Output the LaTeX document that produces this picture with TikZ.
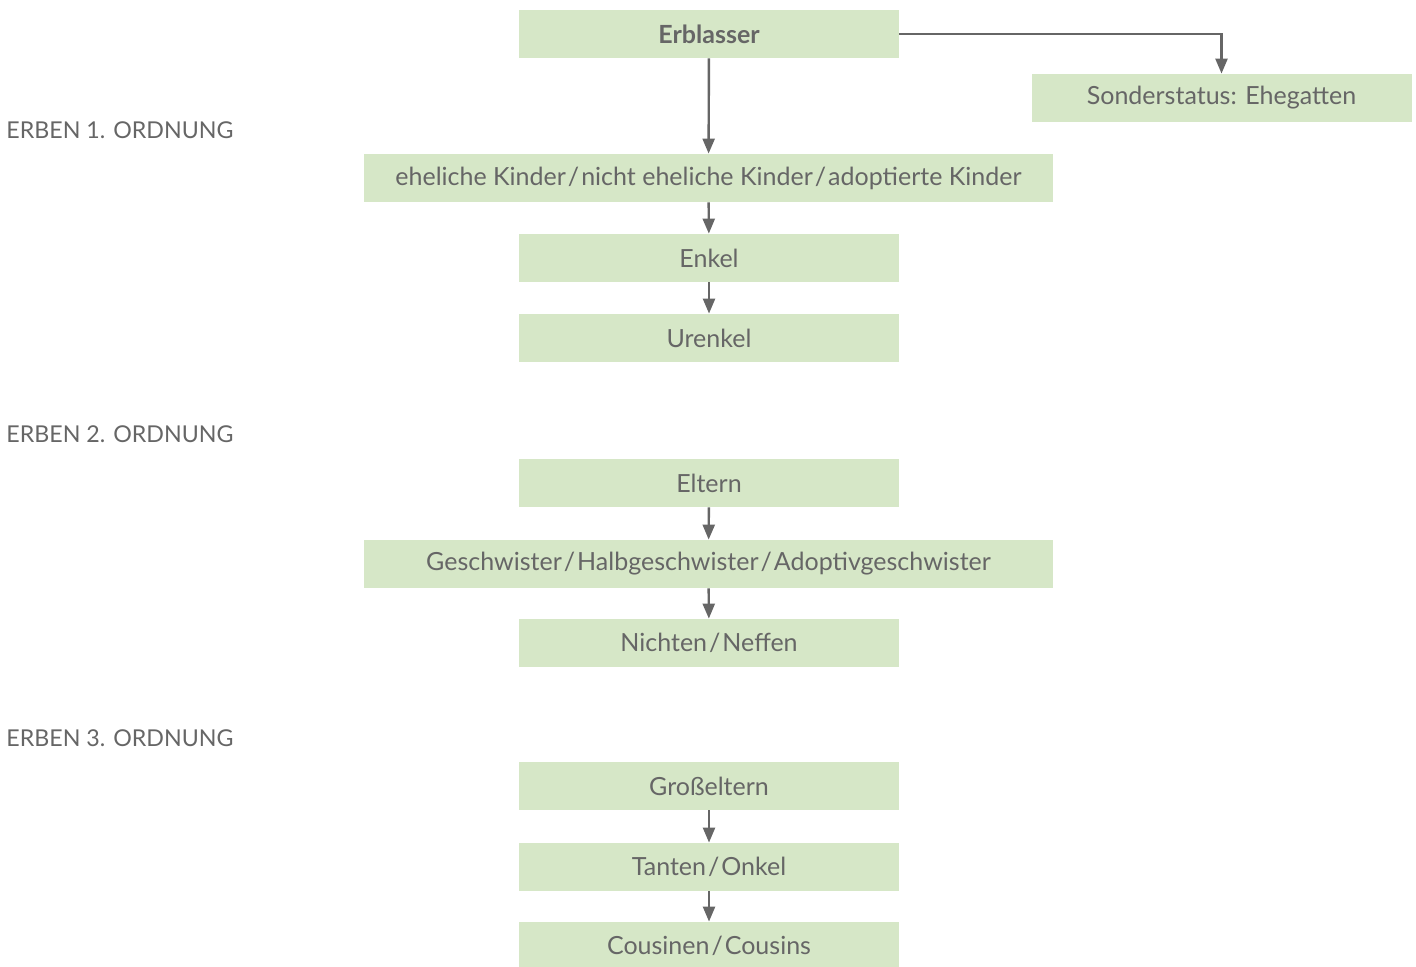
\documentclass[tikz,border=0pt]{standalone}
\usepackage{fontspec}
\setmainfont{Lato}
\usetikzlibrary{arrows.meta}

\definecolor{boxgreen}{HTML}{D6E7C7}
\definecolor{textgray}{HTML}{666666}

\newcommand{\strich}{\kern1pt/\kern1pt}

\tikzset{
    erbe/.style={fill=boxgreen, text=textgray, minimum width=190pt, minimum height=24pt,
        inner sep=0pt, font=\fontsize{12.5}{14}\selectfont},
    erbewide/.style={erbe, minimum width=344.5pt},
    ordnung/.style={anchor=west, text=textgray, inner sep=0pt, font=\fontsize{11.6}{14}\selectfont},
    pfeil/.style={draw=textgray, line width=1.2pt, -{Triangle[length=7.5pt,width=6pt]}}
}

\begin{document}
\begin{tikzpicture}[x=0.5pt, y=-0.5pt]
    \useasboundingbox (0,0) rectangle (1416,966);

    % Erblasser und Ehegatte
    \node[erbe, font=\fontsize{12.5}{14}\selectfont\bfseries] (erblasser) at (709,34) {Erblasser};
    \node[erbe] (ehegatte) at (1221.5,98) {Sonderstatus: Ehegatten};

    % Ordnungen links
    \node[ordnung] (ord1) at (6,130) {ERBEN 1. ORDNUNG};
    \node[ordnung] (ord2) at (6,434) {ERBEN 2. ORDNUNG};
    \node[ordnung] (ord3) at (6,738) {ERBEN 3. ORDNUNG};

    % 1. Ordnung
    \node[erbewide] (kinder) at (708.5,178) {eheliche Kinder\strich nicht eheliche Kinder\strich adoptierte Kinder};
    \node[erbe] (enkel) at (709,258) {Enkel};
    \node[erbe] (urenkel) at (709,338) {Urenkel};

    % 2. Ordnung
    \node[erbe] (eltern) at (709,483) {Eltern};
    \node[erbewide] (geschwister) at (708.5,564) {Geschwister\strich Halbgeschwister\strich Adoptivgeschwister};
    \node[erbe] (nichten) at (709,643) {Nichten\strich Neffen};

    % 3. Ordnung
    \node[erbe] (grosseltern) at (709,786) {Großeltern};
    \node[erbe] (tanten) at (709,867) {Tanten\strich Onkel};
    \node[erbe] (cousins) at (709,946) {Cousinen\strich Cousins};

    % Pfeile
    \draw[pfeil] (erblasser.east) -| (ehegatte.north);
    \draw[pfeil] (erblasser) -- (kinder);
    \draw[pfeil] (kinder) -- (enkel);
    \draw[pfeil] (enkel) -- (urenkel);
    \draw[pfeil] (eltern) -- (geschwister);
    \draw[pfeil] (geschwister) -- (nichten);
    \draw[pfeil] (grosseltern) -- (tanten);
    \draw[pfeil] (tanten) -- (cousins);
\end{tikzpicture}
\end{document}
